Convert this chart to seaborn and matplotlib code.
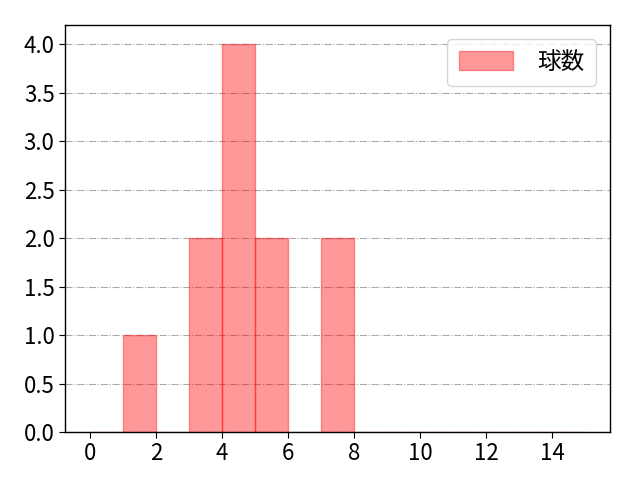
import numpy as np
import matplotlib
matplotlib.use("Agg")
import matplotlib.pyplot as plt
from matplotlib.patches import Patch
import seaborn as sns

# 投球数データ（各値の出現回数がヒストグラムの高さになる）
pitch_counts = [1, 3, 3, 4, 4, 4, 4, 5, 5, 7, 7]
bin_edges = list(range(0, 16))
label = '球数'

sns.set_style("white")
plt.rcParams['font.family'] = ['Noto Sans CJK JP', 'DejaVu Sans']
plt.rcParams['text.color'] = 'black'

fig, ax = plt.subplots(figsize=(6.4, 4.8), dpi=100)
fig.subplots_adjust(left=65/640, right=610/640, top=1-25/480, bottom=1-432/480)
sns.histplot(x=pitch_counts, bins=bin_edges, color='red', alpha=0.4,
             edgecolor=(1, 0, 0, 0.4), linewidth=1, ax=ax)

ax.set_xlim(-0.75, 15.75)
ax.set_ylim(0, 4.2)
ax.set_xticks(range(0, 16, 2))
ax.set_yticks(np.arange(0, 4.01, 0.5))
ax.yaxis.set_major_formatter(matplotlib.ticker.FormatStrFormatter('%.1f'))
ax.tick_params(labelsize=16, length=4, left=True, bottom=True,
               color='black', labelcolor='black')
ax.set_xlabel('')
ax.set_ylabel('')
ax.grid(axis='y', linestyle='-.', color='#aaaaaa', linewidth=0.8)
ax.set_axisbelow(True)
for s in ax.spines.values():
    s.set_color('black')
    s.set_linewidth(1)

handle = Patch(facecolor=(1, 0, 0, 0.4), edgecolor=(1, 0, 0, 0.4), linewidth=1)
ax.legend([handle], [label], loc='upper right', fontsize=17,
          handlelength=2.3, handleheight=0.85, handletextpad=1.0,
          borderaxespad=0.6, borderpad=0.5)

plt.savefig('out.png', dpi=100)
